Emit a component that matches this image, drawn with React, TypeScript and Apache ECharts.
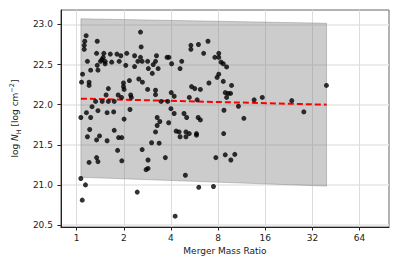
import React, { useEffect, useRef } from "react";
import * as echarts from "echarts";

const massRatio = [
  1.150, 1.127, 1.118, 1.118, 1.354, 2.557, 2.582, 1.172, 1.341, 1.492,
  1.477, 1.449, 1.520, 1.420, 1.520, 1.641, 1.674, 1.808, 1.915, 1.869,
  2.089, 2.059, 2.344, 2.557, 2.459, 2.620, 2.840, 2.344, 2.870, 1.354,
  1.368, 1.229, 1.091, 1.075, 1.201, 1.201, 1.594, 1.542, 1.842, 1.991,
  1.991, 2.172, 2.009, 1.935, 2.213, 2.235, 2.494, 2.631, 2.840, 1.321,
  1.456, 1.594, 1.738, 1.254, 1.368, 1.155, 1.229, 1.064, 1.565, 1.724,
  2.191, 2.009, 3.235, 3.189, 3.084, 3.040, 3.315, 3.775, 3.886, 4.041,
  4.688, 4.575, 5.364, 5.364, 5.994, 6.471, 6.896, 7.628, 8.081, 8.081,
  8.354, 8.636, 8.081, 7.885, 8.636, 6.995, 5.417, 5.681, 6.168, 5.240,
  5.882, 8.889, 9.071, 3.189, 3.189, 4.017, 4.195, 3.462, 3.814, 4.000,
  4.195, 4.848, 5.040, 5.968, 8.724, 3.268, 9.071, 9.750, 9.283, 9.610,
  10.79, 11.69, 13.59, 15.32, 23.63, 28.22, 39.34, 1.212, 1.172, 1.400,
  1.341, 1.565, 1.738, 1.853, 1.943, 1.826, 1.943, 1.341, 1.368, 1.201,
  2.620, 2.857, 2.857, 2.776, 1.064, 1.139, 1.086, 2.437, 3.398, 3.268,
  3.870, 6.168, 3.189, 3.010, 3.364, 4.318, 4.508, 4.575, 4.989, 5.240,
  4.989, 5.824, 5.824, 8.686, 3.684, 7.740, 8.889, 4.946, 6.020, 7.476,
  4.256, 9.652, 10.23,
];

const logNH = [
  22.86, 22.79, 22.74, 22.69, 22.79, 22.905, 22.72, 22.54, 22.64, 22.64,
  22.59, 22.56, 22.54, 22.54, 22.51, 22.63, 22.53, 22.63, 22.61, 22.54,
  22.64, 22.49, 22.61, 22.59, 22.54, 22.54, 22.54, 22.475, 22.45, 22.49,
  22.43, 22.43, 22.38, 22.28, 22.28, 22.24, 22.20, 22.12, 22.12, 22.27,
  22.225, 22.30, 22.19, 22.09, 22.12, 22.09, 22.32, 22.28, 22.19, 22.04,
  22.04, 22.04, 22.04, 21.975, 21.925, 21.90, 21.84, 21.84, 21.90, 21.91,
  21.94, 21.82, 22.61, 22.54, 22.50, 22.39, 22.45, 22.59, 22.59, 22.51,
  22.54, 22.45, 22.74, 22.69, 22.75, 22.64, 22.79, 22.59, 22.64, 22.59,
  22.53, 22.51, 22.38, 22.34, 22.29, 22.27, 22.225, 22.20, 22.19, 22.09,
  22.06, 22.15, 22.09, 22.18, 22.125, 22.15, 22.105, 22.04, 22.04, 21.95,
  21.89, 21.89, 21.84, 21.84, 21.93, 21.84, 22.47, 22.24, 22.14, 22.14,
  21.98, 21.83, 22.06, 22.09, 22.05, 21.91, 22.24, 21.69, 21.60, 21.61,
  21.56, 21.55, 21.68, 21.59, 21.59, 21.43, 21.30, 21.34, 21.29, 21.28,
  21.44, 21.31, 21.205, 21.19, 21.08, 21.00, 20.81, 20.91, 21.79, 21.74,
  21.775, 21.81, 21.66, 21.525, 21.52, 21.67, 21.66, 21.60, 21.66, 21.64,
  21.60, 21.64, 21.62, 21.64, 21.34, 21.34, 21.375, 21.12, 20.97, 20.98,
  20.61, 21.31, 21.38,
];

// Scatter band (envelope) and fitted trend
const bandRatio = [1.065, 39.4];
const bandUpper = [23.07, 23.015];
const bandLower = [21.095, 20.985];
const fitRatio = [1.065, 39.4];
const fitLogNH = [22.075, 22.0];

const xTicks = [1, 2, 4, 8, 16, 32, 64];
const yTicks = [20.5, 21.0, 21.5, 22.0, 22.5, 23.0];

const FONT = "DejaVu Sans";

export default function App() {
  const ref = useRef<HTMLDivElement>(null);

  useEffect(() => {
    if (!ref.current) return;
    const chart = echarts.init(ref.current, null, { renderer: "svg" });

    const points = massRatio.map((x, i) => [x, logNH[i]]);
    const band = bandRatio.map((x, i) => [x, bandLower[i], bandUpper[i]]);
    const fit = fitRatio.map((x, i) => [x, fitLogNH[i]]);

    chart.setOption({
      animation: false,
      grid: {
        left: 55,
        right: 10,
        top: 10,
        bottom: 39,
        show: true,
        borderColor: "#666",
        borderWidth: 1,
        backgroundColor: "transparent",
      },
      xAxis: {
        type: "log",
        logBase: 2,
        min: 0.794,
        max: 98.7,
        name: "Merger Mass Ratio",
        nameLocation: "middle",
        nameGap: 18,
        nameTextStyle: { fontFamily: FONT, fontSize: 9, color: "#222" },
        axisLine: { show: true, onZero: false, lineStyle: { color: "#222", width: 1 } },
        axisTick: {
          show: true,
          inside: false,
          length: 3.5,
          customValues: xTicks,
          lineStyle: { color: "#222" },
        },
        axisLabel: {
          customValues: xTicks,
          fontFamily: FONT,
          fontSize: 9,
          color: "#222",
          margin: 6,
          formatter: (v: number) => String(Math.round(v)),
        },
        splitLine: { show: true, lineStyle: { color: "#dcdcdc", width: 1 } },
      },
      yAxis: {
        type: "value",
        min: 20.475,
        max: 23.18,
        name: "log {i|N}{sub|H} [log cm{sup|−2}]",
        nameLocation: "middle",
        nameGap: 31,
        nameRotate: 90,
        nameTextStyle: {
          fontFamily: FONT,
          fontSize: 9,
          color: "#222",
          lineHeight: 14,
          rich: {
            i: { fontFamily: FONT, fontSize: 9, fontStyle: "italic", color: "#222", lineHeight: 14 },
            sub: { fontFamily: FONT, fontSize: 6.5, color: "#222", verticalAlign: "bottom", lineHeight: 10 },
            sup: { fontFamily: FONT, fontSize: 6.5, color: "#222", verticalAlign: "top", lineHeight: 10 },
          },
        },
        axisLine: { show: true, onZero: false, lineStyle: { color: "#222", width: 1 } },
        axisTick: {
          show: true,
          inside: false,
          length: 3.5,
          customValues: yTicks,
          lineStyle: { color: "#222" },
        },
        axisLabel: {
          customValues: yTicks,
          fontFamily: FONT,
          fontSize: 9,
          color: "#222",
          margin: 8,
          formatter: (v: number) => v.toFixed(1),
        },
        splitLine: { show: true, lineStyle: { color: "#e6e6e6", width: 1.5 } },
      },
      series: [
        {
          type: "custom",
          data: band,
          encode: { x: 0, y: [1, 2] },
          z: 1,
          renderItem: (params: any, api: any) => {
            if (params.dataIndex !== 0) return null;
            const upper = band.map((d) => api.coord([d[0], d[2]]));
            const lower = band.map((d) => api.coord([d[0], d[1]])).reverse();
            return {
              type: "polygon",
              shape: { points: upper.concat(lower) },
              style: {
                fill: "rgba(128,128,128,0.4)",
                stroke: "rgba(110,110,110,0.45)",
                lineWidth: 0.8,
              },
            };
          },
        },
        {
          type: "line",
          data: fit,
          symbol: "none",
          z: 2,
          lineStyle: { color: "#ff0000", width: 2, type: [6, 3] },
        },
        {
          type: "scatter",
          data: points,
          symbol: "circle",
          symbolSize: 5,
          z: 3,
          itemStyle: { color: "#000000" },
        },
      ],
    });

    return () => chart.dispose();
  }, []);

  return (
    <div
      ref={ref}
      style={{ position: "absolute", left: 0, top: 0, width: 399, height: 266 }}
    />
  );
}
